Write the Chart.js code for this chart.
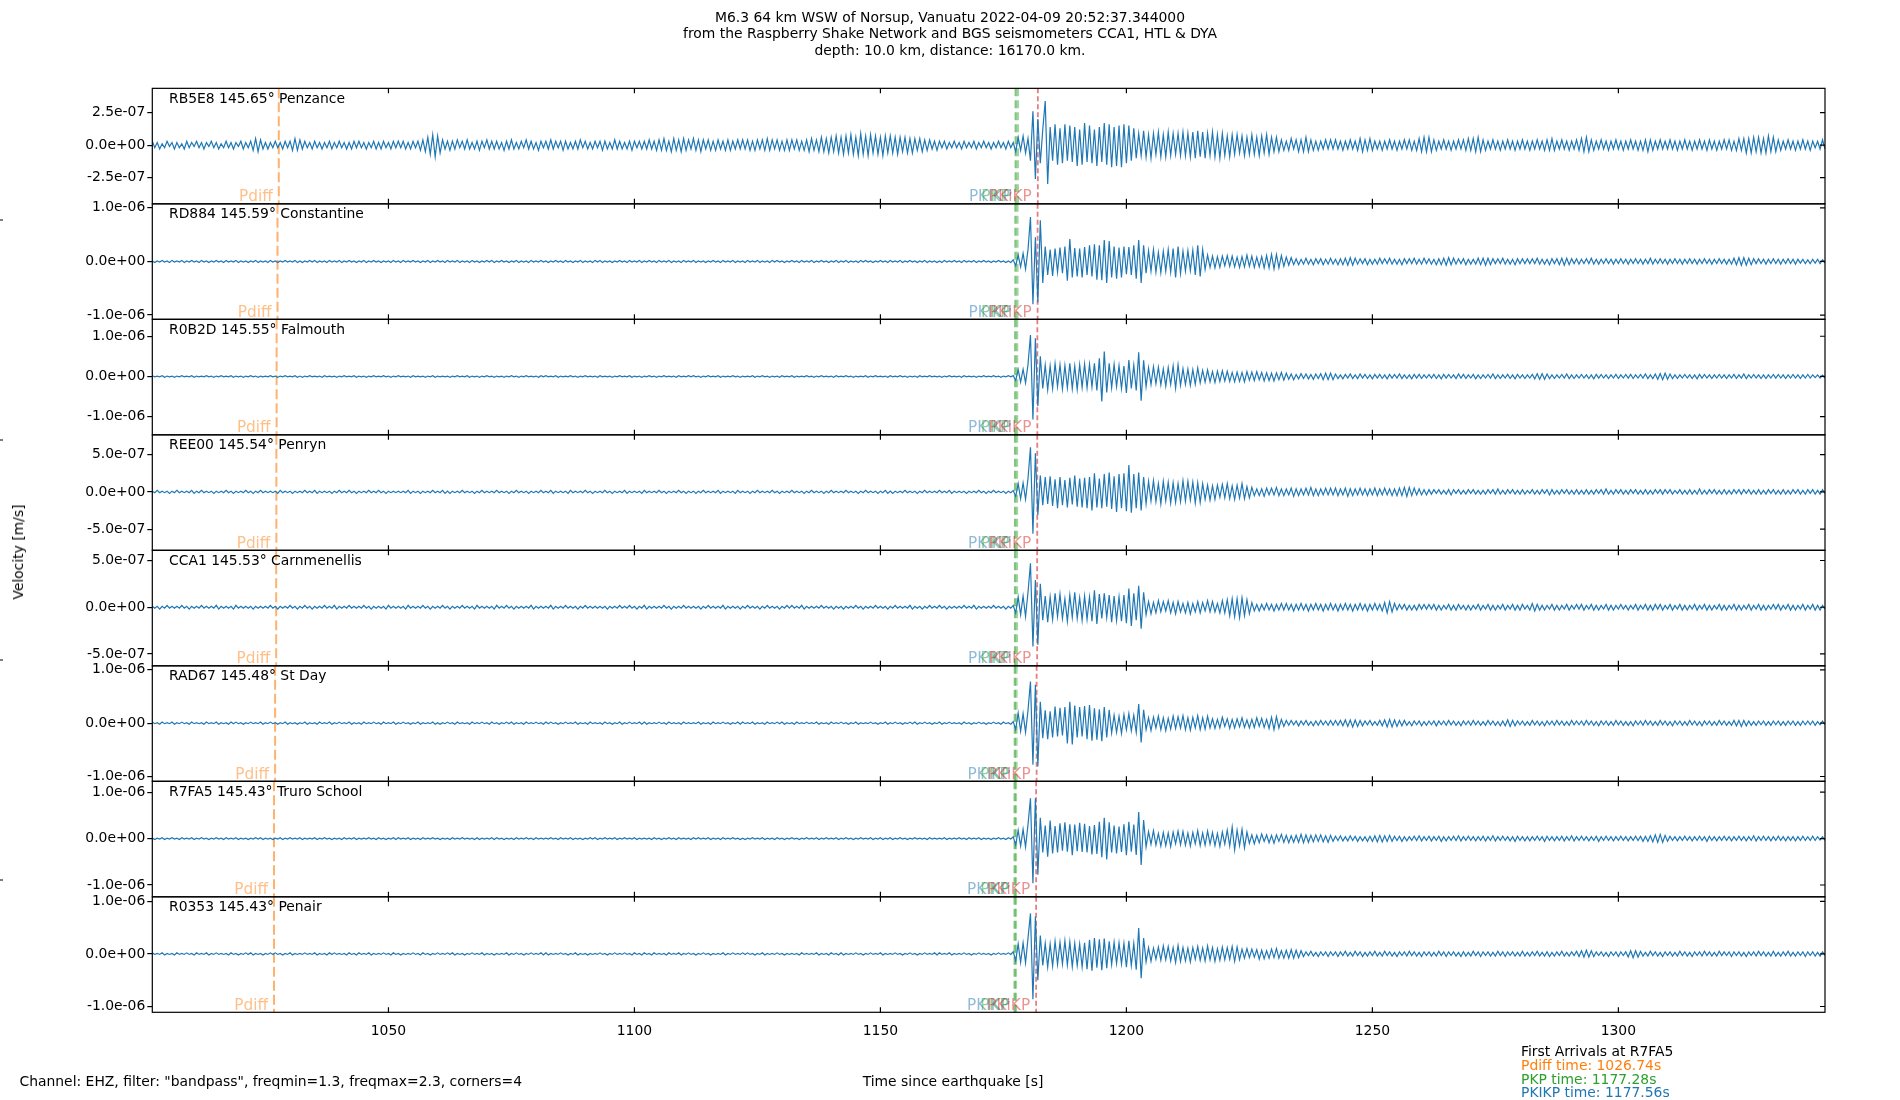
<!DOCTYPE html>
<html>
<head>
<meta charset="utf-8">
<title>M6.3 64 km WSW of Norsup, Vanuatu - seismograms</title>
<script src="https://cdn.jsdelivr.net/npm/chart.js@4.4.0/dist/chart.umd.min.js"></script>
<style>
  body { margin: 0; background: #fff; }
  #wrap { position: relative; width: 1900px; height: 1100px; font-family: "DejaVu Sans", sans-serif; font-size: 13.9px; color: #000; }
  #wrap canvas { position: absolute; left: 0; top: 0; }
  .txt { position: absolute; white-space: nowrap; line-height: 16px; }
</style>
</head>
<body>
<div id="wrap">
  <canvas id="seismo" width="1900" height="1100"></canvas>
  <div class="txt" style="left:18px;top:552px;transform:translate(-50%,-50%) rotate(-90deg);">Velocity [m/s]</div>
  <div class="txt" style="left:19.5px;top:1073px;">Channel: EHZ, filter: "bandpass", freqmin=1.3, freqmax=2.3, corners=4</div>
  <div class="txt" style="left:953px;top:1073px;transform:translateX(-50%);">Time since earthquake [s]</div>
  <div id="arrivals"></div>
</div>
<script>
const titleLines = [
  "M6.3 64 km WSW of Norsup, Vanuatu 2022-04-09 20:52:37.344000",
  "from the Raspberry Shake Network and BGS seismometers CCA1, HTL & DYA",
  "depth: 10.0 km, distance: 16170.0 km.",
];

const stations = ["RB5E8", "RD884", "R0B2D", "REE00", "CCA1", "RAD67", "R7FA5", "R0353"];
const places = ["Penzance", "Constantine", "Falmouth", "Penryn", "Carnmenellis", "St Day", "Truro School", "Penair"];
const distances = [145.65, 145.59, 145.55, 145.54, 145.53, 145.48, 145.43, 145.43];

// arrival times [s] per station
const pdiffTimes = [1027.71, 1027.45, 1027.27, 1027.22, 1027.18, 1026.96, 1026.74, 1026.74];
const pkpTimes = [1177.5, 1177.45, 1177.4, 1177.38, 1177.36, 1177.32, 1177.28, 1177.28];
const pkikpTimes = [1177.95, 1177.86, 1177.79, 1177.77, 1177.75, 1177.66, 1177.56, 1177.56];
const pkikpInnerTimes = [1182.0, 1181.95, 1181.9, 1181.88, 1181.86, 1181.75, 1181.65, 1181.65];

// axis limits and tick steps [m/s]
const yMin = [-4.52e-7, -1.08e-6, -1.45e-6, -7.84e-7, -6.27e-7, -1.09e-6, -1.254e-6, -1.11e-6];
const yMax = [4.37e-7, 1.075e-6, 1.42e-6, 7.66e-7, 6.09e-7, 1.075e-6, 1.234e-6, 1.086e-6];
const yTickStep = [2.5e-7, 1e-6, 1e-6, 5e-7, 5e-7, 1e-6, 1e-6, 1e-6];
const xTicks = [1050, 1100, 1150, 1200, 1250, 1300];
const xMin = 1002;
const xMax = 1342;

// traces: samples every 0.5 s from 1002 s, in units of 1e-8 m/s
const sampleStart = 1002;
const sampleStep = 0.5;
const UNIT = 1e-8;

const rb5e8 = [
  3,-2,2,-3,1,-2,3,-1,2,-3,2,-2,1,-3,3,-2,2,-1,3,-2,
  2,-3,2,-1,3,-2,2,-3,1,-2,3,-2,2,-3,2,-1,3,-3,2,-2,
  3,-4,5,-5,4,-3,2,-3,2,-2,3,-2,2,-3,3,-2,3,-4,5,-4,
  4,-3,3,-2,2,-3,3,-2,2,-3,2,-2,3,-3,2,-2,3,-2,2,-3,
  2,-3,3,-2,3,-2,2,-3,2,-2,3,-3,2,-3,3,-2,2,-3,3,-2,
  3,-2,3,-3,2,-3,3,-2,3,-4,4,-5,6,-7,8,-9,7,-6,4,-3,
  3,-4,3,-3,4,-2,3,-3,4,-3,2,-3,3,-4,3,-2,4,-3,3,-3,
  3,-3,2,-4,3,-3,4,-3,2,-3,3,-2,4,-3,3,-3,2,-4,3,-2,
  3,-3,4,-3,3,-2,3,-4,3,-3,2,-3,3,-3,4,-2,3,-3,2,-3,
  3,-2,3,-4,3,-3,2,-3,4,-3,3,-3,2,-3,3,-4,3,-2,3,-3,
  3,-3,4,-3,3,-4,4,-4,5,-4,3,-5,5,-4,4,-5,5,-4,4,-3,
  5,-4,4,-5,4,-3,4,-4,3,-4,4,-3,3,-4,4,-4,3,-3,4,-3,
  4,-3,4,-4,3,-4,4,-3,4,-4,5,-4,4,-3,4,-4,3,-4,4,-4,
  4,-3,4,-4,3,-4,4,-5,5,-4,4,-5,6,-5,5,-6,6,-5,7,-6,
  6,-7,7,-6,8,-7,6,-8,9,-7,7,-8,8,-6,7,-7,6,-8,7,-6,
  7,-6,6,-7,6,-5,6,-6,5,-6,5,-4,5,-5,4,-4,4,-3,3,-4,
  3,-2,3,-3,2,-2,3,-2,2,-3,3,-2,2,-2,3,-3,2,-2,3,-2,
  2,-3,2,-2,3,-2,2,-3,3,-2,2,-5,6,-4,7,-6,5,-12,26,-26,
  20,-14,12,34,-30,14,-12,16,-15,13,-14,16,-12,15,-13,14,-16,12,-15,17,
  -13,15,-14,12,-16,14,-13,17,-15,16,-17,14,-16,15,-17,16,-14,15,-12,13,
  -10,9,-8,11,-9,8,-10,9,-7,10,-9,8,-9,10,-8,9,-7,9,-8,10,
  -8,9,-9,10,-10,11,-9,10,-10,9,-8,10,-9,8,-10,9,-8,7,-9,8,
  -7,8,-6,7,-8,6,-7,8,-7,6,-8,7,-6,8,-7,6,-5,6,-5,4,
  -4,3,-4,5,-3,4,-5,4,-5,6,-5,4,-4,3,-4,3,-3,4,-3,4,
  -3,4,-3,3,-4,3,-3,4,-3,3,-4,5,-5,4,-4,5,-4,3,-3,3,
  -4,3,-3,4,-3,3,-4,3,-3,4,-3,4,-4,3,-4,5,-5,6,-5,6,
  -5,4,-4,3,-3,4,-3,3,-4,3,-3,4,-3,4,-4,5,-4,5,-5,6,
  -5,4,-4,3,-3,4,-3,3,-4,3,-3,4,-3,3,-4,3,-3,4,-3,3,
  -4,3,-3,4,-3,3,-4,4,-4,5,-4,3,-3,4,-3,3,-4,3,-3,4,
  -4,5,-5,6,-5,4,-4,3,-3,4,-3,3,-4,3,-3,4,-3,3,-4,3,
  -3,4,-3,3,-4,3,-4,4,-5,4,-4,3,-3,4,-3,3,-3,4,-3,3,
  -4,3,-3,4,-3,3,-4,3,-3,4,-3,3,-4,4,-3,3,-4,3,-3,4,
  -3,4,-4,3,-4,5,-4,5,-6,5,-6,6,-5,6,-6,5,-6,7,-5,6,
  -5,4,-4,3,-3,4,-3,3,-4,3,-3,4,-3,3,-4,3,-2,3,-3,4,
  -3,
];

const rd884 = [
  1,-2,1,-1,2,-1,1,-2,2,-1,1,-1,2,-2,1,-1,2,-1,1,-2,
  2,-1,1,-2,1,-1,2,-1,1,-2,2,-1,1,-1,2,-2,1,-1,1,-2,
  1,-1,2,-2,1,-1,1,-2,2,-1,1,-2,1,-1,2,-1,1,-1,2,-2,
  1,-2,1,-1,2,-1,2,-2,1,-1,1,-2,2,-1,1,-1,2,-2,1,-1,
  2,-1,1,-2,1,-1,2,-2,1,-1,2,-1,1,-2,1,-1,1,-2,2,-1,
  1,-2,2,-1,1,-1,2,-1,1,-2,1,-1,2,-2,1,-1,2,-1,1,-2,
  2,-1,1,-1,2,-2,1,-1,1,-2,2,-1,1,-2,1,-1,2,-1,2,-2,
  1,-1,2,-1,1,-2,1,-1,2,-2,1,-1,1,-2,2,-1,1,-1,2,-1,
  1,-2,1,-1,2,-1,1,-2,2,-1,1,-2,1,-1,2,-2,1,-1,1,-2,
  2,-1,2,-2,1,-1,1,-2,1,-1,2,-1,1,-2,2,-1,1,-1,2,-2,
  1,-1,2,-1,1,-2,2,-1,1,-1,2,-2,1,-1,1,-2,2,-1,1,-1,
  2,-2,1,-1,1,-2,1,-1,2,-1,1,-2,2,-1,1,-1,2,-2,1,-1,
  1,-2,2,-1,1,-1,2,-2,1,-1,1,-2,2,-1,2,-1,1,-2,1,-1,
  2,-1,1,-2,2,-1,1,-1,2,-2,1,-1,2,-1,1,-2,1,-1,2,-2,
  1,-1,2,-2,1,-1,1,-2,2,-1,2,-1,1,-2,1,-1,2,-1,1,-2,
  2,-1,1,-1,2,-2,1,-1,2,-1,1,-2,1,-1,2,-2,1,-1,1,-2,
  1,-2,2,-1,1,-1,2,-1,1,-2,2,-1,1,-1,2,-2,1,-1,2,-1,
  1,-2,1,-1,2,-1,1,-2,1,-2,3,-8,12,-10,15,-14,22,83,-80,45,
  -76,77,-40,28,-25,22,-27,24,-20,26,-22,28,-36,42,-30,25,-28,24,-30,27,
  -25,30,-28,32,-34,30,-35,40,-40,38,-30,28,-32,26,-30,28,-24,27,-25,30,
  -32,40,-40,30,-22,20,-18,22,-20,17,-21,19,-18,22,-20,24,-30,28,-22,19,
  -18,20,-17,21,-25,30,-28,22,-15,12,-11,10,-12,9,-11,10,-8,11,-9,10,
  -10,8,-11,9,-10,12,-9,10,-11,8,-10,9,-12,11,-12,13,-14,13,-12,11,
  -9,8,-7,7,-6,5,-6,4,-5,6,-5,4,-6,5,-4,5,-6,4,-5,6,
  -5,4,-6,5,-6,6,-7,7,-7,6,-5,5,-4,5,-6,4,-5,4,-5,6,
  -4,5,-4,6,-5,4,-5,4,-6,5,-4,5,-4,6,-5,4,-5,6,-4,5,
  -5,4,-6,5,-6,6,-7,7,-6,6,-5,5,-4,5,-6,4,-5,4,-5,6,
  -6,6,-7,6,-6,5,-4,5,-4,6,-5,4,-5,4,-6,5,-4,5,-4,5,
  -4,5,-4,6,-5,4,-5,4,-6,5,-4,5,-6,6,-7,6,-6,5,-4,5,
  -5,4,-4,5,-4,6,-5,4,-5,4,-4,5,-4,4,-5,4,-4,5,-4,4,
  -5,4,-4,5,-4,4,-5,4,-4,6,-5,4,-4,5,-4,4,-5,4,-4,5,
  -4,4,-5,4,-4,5,-4,4,-5,4,-4,5,-4,4,-5,4,-4,5,-4,4,
  -5,4,-5,6,-6,7,-7,7,-7,6,-6,5,-4,5,-4,4,-5,4,-4,5,
  -4,4,-5,4,-4,5,-4,4,-5,4,-3,4,-4,3,-4,4,-3,4,-4,3,
  -3,
];

const r0b2d = [
  2,-1,1,-1,2,-2,1,-1,1,-2,1,-1,2,-1,1,-1,2,-2,1,-1,
  1,-1,2,-1,1,-2,1,-1,2,-1,1,-1,2,-2,1,-1,1,-2,1,-1,
  2,-1,1,-2,1,-1,1,-1,2,-1,1,-2,1,-1,2,-1,1,-1,2,-2,
  1,-2,1,-1,2,-1,1,-1,1,-2,2,-1,1,-1,1,-2,1,-1,2,-1,
  1,-1,2,-2,1,-1,1,-2,1,-1,2,-1,1,-1,2,-1,1,-2,1,-1,
  2,-1,1,-1,1,-2,2,-1,1,-1,1,-2,1,-1,2,-2,1,-1,1,-1,
  1,-2,1,-1,2,-1,1,-1,2,-2,1,-1,1,-2,1,-1,2,-1,1,-2,
  1,-1,1,-2,1,-1,2,-1,1,-2,1,-1,2,-1,1,-1,1,-2,2,-1,
  2,-1,1,-1,2,-2,1,-1,1,-1,2,-1,1,-2,1,-1,2,-1,1,-1,
  1,-2,2,-1,1,-1,1,-2,1,-1,2,-1,1,-1,2,-2,1,-1,1,-2,
  1,-1,2,-1,1,-2,1,-1,2,-1,1,-1,1,-2,2,-1,1,-1,2,-1,
  2,-1,1,-2,1,-1,2,-1,1,-1,2,-2,1,-1,1,-1,2,-1,1,-2,
  1,-1,1,-1,2,-2,1,-1,2,-1,1,-2,1,-1,1,-2,2,-1,1,-1,
  2,-2,1,-1,1,-1,2,-1,1,-2,1,-1,2,-1,1,-1,1,-2,2,-1,
  1,-1,2,-1,1,-2,1,-1,1,-1,2,-2,1,-1,2,-1,1,-1,1,-2,
  2,-1,1,-1,2,-1,1,-2,1,-1,1,-2,2,-1,1,-1,2,-1,1,-1,
  1,-2,1,-1,2,-1,1,-1,1,-2,2,-1,1,-1,1,-2,1,-1,2,-1,
  1,-1,2,-1,1,-2,1,-1,2,-1,2,-10,17,-14,18,-16,30,103,-107,95,
  -74,50,-30,28,-33,26,-30,32,-25,29,-31,27,-28,33,-30,26,-32,29,-27,31,
  -28,30,-26,33,-35,45,-62,62,-40,33,-28,30,-25,27,-30,26,-41,41,-30,28,
  -35,60,-60,40,-25,22,-20,24,-18,23,-21,19,-24,22,-20,26,-29,29,-22,19,
  -20,18,-22,17,-19,21,-16,15,-14,16,-13,12,-15,13,-12,14,-11,13,-12,10,
  -13,11,-12,10,-13,12,-9,11,-10,12,-8,10,-11,9,-10,8,-11,9,-8,10,
  -9,8,-7,6,-8,5,-6,7,-5,6,-6,5,-7,6,-5,7,-8,8,-8,8,
  -8,6,-5,4,-6,5,-4,6,-5,4,-5,6,-4,5,-5,4,-6,5,-4,5,
  -5,4,-6,5,-4,5,-4,6,-5,4,-5,4,-6,5,-4,5,-5,4,-4,5,
  -4,5,-5,4,-6,5,-4,5,-4,4,-5,6,-4,5,-5,4,-4,5,-6,4,
  -5,4,-4,5,-4,6,-5,4,-5,4,-4,5,-5,4,-6,5,-4,4,-5,4,
  -4,5,-6,7,-7,7,-7,6,-5,4,-5,4,-4,5,-4,6,-5,4,-5,4,
  -4,5,-4,4,-5,4,-6,5,-4,5,-4,4,-5,4,-4,5,-5,4,-4,5,
  -4,5,-5,4,-4,5,-4,6,-5,4,-5,6,-7,7,-8,8,-7,6,-5,4,
  -5,4,-4,5,-4,4,-5,4,-6,5,-4,5,-4,4,-5,4,-4,5,-4,4,
  -5,4,-4,5,-5,4,-4,6,-5,4,-4,5,-4,4,-5,4,-5,4,-4,5,
  -4,5,-4,4,-5,4,-4,5,-4,4,-5,4,-4,5,-4,4,-3,4,-4,3,
  -4,
];

const ree00 = [
  1,-1,2,-1,1,-1,1,-2,1,-1,2,-1,1,-1,1,-1,2,-2,1,-1,
  2,-1,1,-1,1,-2,1,-1,1,-1,2,-1,1,-2,1,-1,1,-1,2,-1,
  1,-2,1,-1,2,-1,1,-1,1,-1,1,-2,2,-1,1,-1,1,-2,1,-1,
  1,-1,2,-1,1,-1,2,-2,1,-1,1,-1,1,-2,1,-1,2,-1,1,-1,
  2,-1,1,-2,1,-1,1,-1,2,-1,1,-1,2,-1,1,-2,1,-1,1,-1,
  1,-1,1,-1,2,-2,1,-1,1,-2,1,-1,1,-1,2,-1,1,-1,2,-2,
  1,-2,1,-1,1,-1,2,-1,1,-1,1,-2,1,-1,2,-1,1,-1,1,-1,
  2,-1,1,-1,1,-2,1,-1,2,-1,1,-1,1,-2,1,-1,1,-1,2,-1,
  1,-1,2,-2,1,-1,1,-1,1,-2,2,-1,1,-1,1,-1,2,-1,1,-2,
  1,-1,1,-1,2,-1,1,-2,1,-1,1,-1,2,-2,1,-1,1,-1,1,-2,
  2,-1,1,-1,1,-1,2,-1,1,-2,1,-1,1,-1,2,-1,1,-2,1,-1,
  1,-2,1,-1,2,-1,1,-1,1,-1,2,-2,1,-1,1,-1,1,-2,2,-1,
  1,-1,1,-2,1,-1,2,-1,1,-1,1,-1,2,-1,1,-2,1,-1,1,-1,
  2,-1,1,-1,1,-2,1,-1,2,-1,1,-1,1,-2,1,-1,2,-1,1,-1,
  1,-1,2,-1,1,-1,1,-2,1,-1,2,-1,1,-1,1,-2,1,-1,2,-2,
  1,-2,1,-1,1,-1,2,-1,1,-1,1,-2,1,-1,2,-1,1,-1,1,-1,
  2,-1,1,-1,2,-2,1,-1,1,-1,1,-2,1,-1,1,-1,2,-1,1,-2,
  1,-1,2,-1,1,-1,1,-2,1,-1,2,-6,11,-9,12,-10,18,60,-56,52,
  -31,22,-18,20,-16,21,-19,17,-22,20,-18,16,-21,19,-17,22,-20,18,-21,19,
  -22,20,-25,25,-21,18,-22,24,-20,26,-23,21,-27,24,-22,25,-26,36,-28,24,
  -22,26,-25,20,-16,14,-12,15,-13,11,-16,14,-12,13,-15,12,-14,11,-13,15,
  -12,14,-11,13,-15,12,-14,11,-10,9,-11,8,-10,9,-7,10,-8,11,-9,8,
  -10,9,-8,11,-9,7,-8,6,-5,4,-5,4,-6,5,-4,5,-4,6,-5,4,
  -5,4,-4,5,-6,4,-5,4,-4,5,-4,6,-5,4,-5,4,-4,5,-4,5,
  -4,5,-5,4,-4,5,-6,4,-5,4,-4,5,-4,4,-5,4,-4,5,-5,4,
  -4,5,-4,4,-5,4,-5,5,-5,6,-6,6,-5,5,-4,4,-4,3,-4,3,
  -3,3,-2,3,-3,2,-3,3,-4,3,-2,3,-3,2,-3,3,-2,3,-3,2,
  -3,2,-3,3,-2,3,-3,4,-3,2,-3,3,-2,3,-3,2,-3,3,-3,2,
  -2,3,-3,2,-3,3,-2,3,-4,3,-3,2,-3,3,-2,3,-3,2,-3,3,
  -3,2,-3,3,-3,2,-3,3,-2,3,-3,4,-3,2,-3,3,-2,3,-3,2,
  -3,3,-2,3,-3,2,-3,3,-3,2,-3,3,-2,3,-3,3,-2,3,-3,2,
  -2,3,-3,2,-3,3,-3,2,-3,4,-3,2,-3,3,-2,3,-3,2,-3,3,
  -3,2,-3,3,-2,3,-3,3,-2,3,-3,2,-3,3,-3,2,-3,3,-2,3,
  -3,2,-3,3,-3,2,-3,3,-2,3,-3,2,-3,3,-2,3,-3,2,-3,3,
  -2,
];

const cca1 = [
  1,-1,1,-2,1,-1,2,-1,1,-1,1,-1,2,-1,1,-2,1,-1,1,-1,
  2,-1,1,-1,1,-1,2,-2,1,-1,1,-1,1,-2,2,-1,1,-1,1,-1,
  1,-2,1,-1,1,-1,1,-1,2,-1,1,-2,1,-1,1,-1,2,-1,1,-2,
  1,-1,2,-1,1,-2,1,-1,1,-1,2,-1,1,-1,2,-2,1,-1,1,-1,
  2,-1,1,-1,1,-1,2,-1,1,-2,1,-1,1,-1,1,-2,2,-1,1,-1,
  1,-1,1,-2,2,-1,1,-1,1,-1,2,-1,1,-2,1,-1,1,-1,2,-1,
  1,-2,1,-1,1,-1,2,-1,1,-1,1,-2,2,-1,1,-1,1,-1,1,-2,
  2,-1,1,-1,2,-1,1,-2,1,-1,1,-1,1,-1,2,-2,1,-1,1,-1,
  1,-1,2,-2,1,-1,1,-1,2,-1,1,-1,1,-2,1,-1,2,-1,1,-1,
  1,-1,1,-1,1,-2,1,-1,1,-1,2,-1,1,-1,2,-1,1,-2,1,-1,
  2,-2,1,-1,1,-1,1,-1,2,-1,1,-2,1,-1,1,-1,2,-1,1,-1,
  1,-1,1,-2,1,-1,2,-1,1,-1,1,-1,2,-2,1,-1,1,-1,1,-2,
  1,-1,2,-1,1,-1,1,-2,1,-1,2,-1,1,-1,1,-2,1,-1,2,-1,
  2,-1,1,-1,2,-2,1,-1,1,-1,1,-1,2,-1,1,-1,1,-2,1,-1,
  1,-2,1,-1,1,-1,2,-1,1,-2,1,-1,1,-1,2,-1,1,-1,1,-2,
  1,-1,2,-1,1,-1,1,-1,2,-2,1,-1,1,-2,1,-1,2,-1,1,-1,
  2,-1,1,-2,1,-1,1,-1,1,-1,2,-1,1,-1,2,-2,1,-1,1,-1,
  1,-1,2,-1,1,-1,1,-2,1,-1,2,-6,11,-8,12,-10,16,47,-42,29,
  -40,25,-14,12,-16,11,-13,15,-10,14,-12,9,-15,13,-11,16,-12,10,-14,12,
  -13,11,-15,18,-18,14,-12,15,-11,13,-16,12,-14,11,-15,13,-17,20,-20,15,
  -14,23,-23,16,-8,6,-7,5,-6,7,-5,6,-4,7,-6,5,-7,6,-5,4,
  -6,5,-7,4,-5,6,-6,5,-4,7,-5,6,-5,4,-6,7,-6,8,-9,9,
  -10,9,-11,10,-9,8,-7,5,-4,3,-4,3,-3,4,-3,3,-4,3,-3,4,
  -3,4,-3,3,-4,3,-3,4,-3,3,-4,3,-3,4,-3,3,-4,3,-3,4,
  -3,3,-4,3,-3,4,-3,3,-4,3,-3,4,-3,3,-4,3,-3,4,-3,3,
  -4,5,-6,6,-5,4,-3,3,-2,3,-3,2,-3,2,-3,3,-2,3,-2,3,
  -2,3,-3,2,-3,2,-2,3,-3,2,-3,3,-2,2,-3,2,-3,2,-2,3,
  -3,2,-2,3,-3,2,-3,2,-2,3,-3,2,-2,3,-3,2,-3,3,-2,2,
  -3,4,-4,3,-3,2,-3,2,-2,3,-3,2,-3,2,-2,3,-3,2,-2,3,
  -2,3,-3,2,-2,3,-3,2,-3,2,-2,3,-3,2,-3,2,-2,3,-2,2,
  -3,2,-2,3,-3,2,-2,3,-3,2,-3,3,-2,3,-3,2,-2,3,-3,2,
  -2,3,-3,2,-3,2,-2,3,-3,2,-2,3,-3,2,-3,2,-2,3,-3,2,
  -3,2,-2,3,-3,2,-3,2,-2,3,-3,2,-2,3,-3,2,-3,2,-2,3,
  -2,3,-3,2,-2,3,-3,2,-3,2,-2,3,-3,2,-2,3,-3,2,-3,2,
  -2,
];

const rad67 = [
  2,-1,1,-2,2,-1,1,-1,2,-2,1,-1,2,-1,1,-2,2,-1,1,-1,
  1,-2,2,-1,1,-1,2,-2,1,-1,1,-2,2,-1,2,-1,1,-2,1,-1,
  2,-1,1,-1,2,-2,1,-1,2,-1,1,-2,1,-1,2,-2,1,-1,1,-2,
  1,-1,2,-2,1,-1,1,-2,2,-1,1,-1,2,-2,1,-1,2,-1,1,-1,
  2,-2,1,-1,1,-2,2,-1,1,-1,2,-1,1,-2,2,-1,1,-1,2,-2,
  1,-1,2,-1,1,-2,1,-1,2,-2,1,-1,1,-1,2,-2,1,-2,1,-1,
  2,-1,1,-2,2,-1,1,-1,1,-2,2,-1,1,-1,2,-1,1,-2,2,-1,
  1,-2,1,-1,2,-1,2,-2,1,-1,1,-2,2,-1,1,-1,2,-1,1,-2,
  2,-1,2,-1,1,-2,1,-1,2,-1,1,-1,2,-2,1,-1,1,-2,2,-1,
  1,-1,1,-2,2,-1,1,-2,1,-1,2,-2,1,-1,2,-1,1,-1,2,-2,
  2,-2,1,-1,1,-1,2,-1,1,-2,2,-1,1,-1,1,-2,2,-1,1,-1,
  1,-1,2,-2,1,-1,1,-2,2,-1,1,-1,2,-1,1,-2,1,-1,2,-2,
  2,-1,1,-1,2,-2,1,-1,1,-2,2,-1,1,-1,2,-1,2,-2,1,-1,
  1,-2,2,-1,1,-1,2,-1,1,-1,2,-2,1,-1,1,-2,2,-1,1,-1,
  2,-1,1,-2,1,-1,2,-2,1,-1,1,-1,2,-1,1,-2,1,-1,2,-2,
  1,-1,2,-1,1,-2,1,-1,2,-1,2,-2,1,-1,2,-1,1,-2,1,-1,
  2,-2,1,-1,2,-1,1,-1,1,-2,2,-1,1,-2,1,-1,2,-1,1,-2,
  1,-1,2,-1,1,-2,2,-1,1,-2,3,-12,19,-15,18,-17,24,78,-78,72,
  -81,40,-28,24,-30,22,-27,31,-25,29,-23,30,-38,40,-40,33,-27,30,-25,32,
  -30,34,-33,28,-31,26,-34,30,-27,25,-18,15,-17,13,-19,16,-12,18,-14,15,
  -17,36,-36,25,-12,10,-14,11,-9,13,-12,10,-14,9,-11,13,-10,12,-9,14,
  -12,10,-13,11,-9,14,-12,10,-11,13,-9,8,-10,7,-9,11,-6,8,-10,7,
  -9,8,-7,10,-8,6,-9,7,-8,10,-6,9,-8,7,-10,11,-12,12,-9,7,
  -6,5,-4,5,-3,4,-5,4,-3,5,-4,3,-5,4,-4,5,-3,4,-4,5,
  -4,5,-4,5,-5,6,-6,6,-7,6,-6,5,-5,4,-3,5,-4,3,-4,5,
  -5,6,-7,7,-7,6,-6,5,-5,5,-4,3,-5,4,-3,4,-5,3,-4,4,
  -3,4,-5,4,-3,4,-4,5,-3,4,-4,3,-5,4,-3,4,-4,5,-3,4,
  -4,3,-4,5,-3,4,-4,3,-5,4,-5,6,-6,5,-5,4,-3,4,-4,3,
  -4,5,-3,4,-4,3,-5,4,-3,4,-4,5,-3,4,-4,3,-4,5,-3,4,
  -3,4,-4,5,-3,4,-4,3,-5,4,-3,4,-4,3,-4,5,-3,4,-4,3,
  -4,3,-5,4,-3,4,-4,5,-3,4,-4,3,-4,5,-3,4,-4,3,-5,4,
  -3,4,-4,3,-4,5,-3,4,-4,3,-5,4,-3,4,-4,3,-4,5,-3,4,
  -4,3,-4,5,-5,5,-6,5,-5,4,-4,3,-4,4,-3,4,-4,3,-4,4,
  -3,4,-4,3,-4,4,-3,4,-4,3,-4,4,-3,4,-3,4,-4,3,-3,4,
  -3,
];

const r7fa5 = [
  1,-2,1,-1,2,-2,1,-1,2,-1,1,-2,2,-1,1,-1,2,-2,1,-1,
  2,-1,1,-2,1,-1,2,-1,1,-2,2,-1,1,-1,2,-2,1,-1,1,-2,
  1,-1,2,-1,2,-2,1,-1,1,-2,1,-1,2,-2,1,-1,2,-1,1,-1,
  2,-2,1,-1,1,-1,2,-2,1,-1,2,-1,1,-2,1,-1,1,-2,2,-1,
  1,-1,2,-2,1,-1,1,-1,2,-1,1,-2,2,-1,1,-2,1,-1,2,-2,
  2,-1,1,-1,2,-2,1,-1,1,-2,2,-1,1,-1,2,-1,1,-2,1,-1,
  1,-2,2,-1,1,-1,2,-1,1,-1,1,-2,2,-2,1,-1,1,-1,2,-2,
  2,-1,1,-2,1,-1,1,-2,2,-1,1,-1,2,-1,1,-2,2,-1,1,-1,
  1,-1,2,-1,1,-2,2,-1,1,-1,2,-2,1,-1,1,-2,1,-1,2,-1,
  2,-2,1,-1,2,-1,1,-1,2,-2,1,-1,2,-1,1,-1,2,-2,1,-1,
  1,-1,1,-2,2,-1,1,-2,1,-1,2,-1,1,-2,2,-1,1,-1,1,-2,
  2,-1,2,-1,1,-1,2,-2,1,-1,1,-2,2,-1,1,-1,2,-1,1,-2,
  1,-2,1,-1,2,-1,1,-1,2,-2,1,-1,1,-2,2,-1,1,-2,1,-1,
  2,-1,1,-2,1,-1,2,-1,1,-1,2,-2,1,-1,2,-1,1,-1,2,-2,
  1,-1,2,-1,1,-2,1,-1,2,-1,1,-1,2,-2,1,-1,2,-2,1,-1,
  2,-2,1,-1,2,-1,1,-2,1,-1,2,-1,1,-1,1,-2,2,-1,1,-1,
  1,-1,2,-2,1,-1,1,-1,2,-1,1,-2,2,-1,1,-1,2,-2,1,-1,
  1,-2,1,-1,2,-1,1,-2,2,-1,4,-14,18,-16,20,-18,30,87,-96,87,
  -78,45,-30,28,-39,39,-32,27,-30,33,-26,35,-28,31,-36,30,-27,34,-29,32,
  -30,27,-34,29,-33,36,-40,45,-45,35,-30,28,-32,26,-29,31,-36,36,-28,30,
  -35,57,-57,40,-18,15,-12,17,-14,11,-16,13,-15,12,-17,14,-11,16,-13,15,
  -14,12,-16,13,-11,17,-15,12,-14,16,-12,13,-15,11,-17,14,-12,18,-16,25,
  -24,18,-15,20,-20,14,-10,8,-11,7,-9,10,-6,8,-9,7,-10,8,-6,9,
  -8,7,-9,6,-8,7,-8,9,-9,8,-8,7,-7,8,-6,8,-7,6,-8,7,
  -6,5,-4,6,-5,4,-5,6,-4,5,-6,4,-5,4,-6,5,-6,6,-7,7,
  -7,6,-6,7,-6,5,-4,5,-6,4,-5,4,-4,5,-4,6,-5,4,-4,5,
  -5,4,-4,5,-6,4,-5,4,-4,5,-4,6,-5,4,-4,5,-4,4,-5,4,
  -4,5,-5,4,-4,6,-5,4,-4,5,-4,4,-5,4,-6,5,-4,4,-5,4,
  -5,4,-4,5,-4,4,-6,5,-4,4,-5,4,-4,5,-5,4,-4,6,-5,4,
  -4,5,-4,4,-5,4,-4,5,-6,4,-4,5,-4,4,-5,4,-4,5,-4,4,
  -5,4,-4,5,-4,5,-6,5,-6,6,-7,8,-8,9,-8,7,-6,5,-4,4,
  -5,4,-4,5,-4,4,-5,4,-4,5,-4,4,-6,5,-4,4,-5,4,-4,5,
  -4,4,-5,4,-4,5,-4,4,-5,4,-4,6,-5,4,-4,5,-4,4,-5,4,
  -4,5,-4,4,-5,4,-4,4,-5,4,-4,5,-4,4,-4,5,-4,4,-3,4,
  -4,
];

const r0353 = [
  2,-1,1,-1,2,-2,1,-1,1,-2,2,-1,1,-1,2,-1,1,-2,2,-1,
  1,-1,2,-2,1,-1,2,-1,1,-1,1,-2,2,-1,1,-2,1,-1,2,-1,
  2,-2,1,-1,1,-2,1,-1,2,-1,2,-1,1,-2,1,-1,2,-2,1,-1,
  1,-1,2,-1,1,-1,2,-2,1,-1,1,-2,2,-1,2,-1,1,-1,1,-2,
  2,-1,1,-2,2,-1,1,-1,2,-2,1,-1,1,-1,2,-1,1,-2,2,-1,
  1,-2,1,-1,1,-1,2,-1,1,-2,2,-1,1,-2,1,-1,2,-1,1,-1,
  2,-1,2,-2,1,-1,1,-2,1,-1,2,-1,1,-1,2,-2,1,-1,1,-2,
  1,-1,1,-1,2,-2,1,-1,2,-1,1,-2,1,-1,2,-1,1,-1,2,-2,
  2,-2,1,-1,1,-1,2,-1,1,-2,1,-1,2,-2,1,-1,1,-2,1,-1,
  1,-1,2,-1,1,-2,1,-1,2,-1,1,-1,2,-1,1,-2,2,-1,1,-2,
  2,-1,1,-2,2,-1,1,-1,1,-2,2,-1,1,-1,2,-2,1,-1,2,-1,
  1,-2,1,-1,2,-1,1,-2,1,-1,1,-1,2,-2,1,-1,2,-1,1,-1,
  2,-1,2,-1,1,-2,1,-1,2,-2,1,-1,1,-1,2,-1,1,-2,1,-1,
  1,-1,1,-2,2,-1,1,-1,1,-1,2,-2,1,-1,1,-2,2,-1,1,-2,
  2,-2,1,-1,1,-1,2,-1,1,-2,1,-1,2,-1,1,-1,2,-2,1,-1,
  1,-1,2,-1,1,-2,1,-1,2,-1,1,-2,1,-1,2,-1,1,-1,2,-2,
  2,-1,1,-1,2,-2,1,-1,1,-1,2,-1,1,-2,1,-1,2,-1,1,-1,
  1,-2,1,-1,2,-1,1,-1,2,-1,4,-13,19,-16,21,-17,30,77,-86,71,
  -50,35,-22,20,-25,19,-23,24,-20,22,-19,25,-21,23,-24,20,-22,19,-25,21,
  -29,27,-32,30,-26,28,-31,29,-27,24,-20,22,-18,21,-19,20,-25,25,-22,20,
  -30,49,-46,30,-15,12,-14,11,-10,13,-12,15,-11,14,-13,12,-16,16,-14,12,
  -13,11,-15,12,-10,14,-12,11,-13,15,-11,12,-14,10,-12,13,-11,12,-10,14,
  -14,13,-11,9,-8,10,-7,9,-6,8,-10,7,-9,6,-8,9,-7,10,-8,6,
  -8,7,-8,8,-8,7,-7,6,-5,4,-3,5,-4,3,-5,4,-3,4,-5,4,
  -3,4,-5,4,-3,5,-4,3,-4,5,-3,4,-5,3,-4,4,-3,5,-4,3,
  -4,5,-3,4,-4,3,-5,4,-3,4,-4,5,-3,4,-4,3,-5,4,-3,4,
  -4,3,-4,5,-3,4,-5,4,-3,4,-4,3,-5,4,-4,3,-4,5,-3,4,
  -5,4,-3,4,-4,3,-4,5,-3,4,-5,4,-3,4,-4,3,-4,5,-4,3,
  -4,4,-3,5,-4,3,-4,4,-5,3,-4,4,-3,5,-4,3,-4,4,-3,5,
  -5,6,-6,7,-6,6,-5,4,-3,4,-4,3,-5,4,-3,4,-5,4,-3,4,
  -6,6,-7,6,-6,5,-4,3,-4,5,-3,4,-4,3,-5,4,-3,4,-4,3,
  -4,5,-3,4,-4,3,-5,4,-3,4,-4,5,-3,4,-4,3,-4,5,-3,4,
  -3,4,-5,4,-3,4,-4,3,-5,4,-3,4,-4,5,-3,4,-4,3,-4,5,
  -4,3,-4,4,-3,5,-4,3,-4,4,-3,4,-5,4,-3,4,-4,3,-4,4,
  -3,
];

const traces = [rb5e8, rd884, r0b2d, ree00, cca1, rad67, r7fa5, r0353];

const phases = [
  { name: "Pdiff", times: pdiffTimes, line: "rgba(255,127,14,0.6)", text: "rgba(255,127,14,0.5)", width: 2, dash: [10, 4] },
  { name: "PKIKP", times: pkikpTimes, line: "rgba(44,160,44,0.45)", text: "rgba(31,119,180,0.5)", width: 2.2, dash: [8, 4] },
  { name: "PKP", times: pkpTimes, line: "rgba(44,160,44,0.6)", text: "rgba(44,160,44,0.5)", width: 2.2, dash: [8, 4] },
  { name: "PKiKP", times: pkikpInnerTimes, line: "rgba(214,39,40,0.6)", text: "rgba(214,39,40,0.5)", width: 1.8, dash: [5, 3] },
];

const firstArrivals = [
  { text: "First Arrivals at R7FA5", color: "#000" },
  { text: `Pdiff time: ${pdiffTimes[6].toFixed(2)}s`, color: "#ff7f0e" },
  { text: `PKP time: ${pkpTimes[6].toFixed(2)}s`, color: "#2ca02c" },
  { text: `PKIKP time: ${pkikpTimes[6].toFixed(2)}s`, color: "#1f77b4" },
];

const arrivalsBox = document.querySelector("#arrivals");
firstArrivals.forEach((line, i) => {
  const div = document.createElement("div");
  div.className = "txt";
  div.style.left = "1521px";
  div.style.top = 1043 + i * 13.75 + "px";
  div.style.color = line.color;
  div.textContent = line.text;
  arrivalsBox.appendChild(div);
});

function formatExp(v) {
  return v.toExponential(1).replace(/e([+-])(\d)$/, "e$10$2");
}

const FONT = "DejaVu Sans";
Chart.defaults.font.family = FONT;
Chart.defaults.color = "#000";

const datasets = [];
traces.forEach((values, i) => {
  datasets.push({
    data: values.map((v, k) => ({ x: sampleStart + k * sampleStep, y: v * UNIT })),
    yAxisID: "y" + i,
    borderColor: "#1f77b4",
    borderWidth: 1.2,
    pointRadius: 0,
    tension: 0,
  });
  phases.forEach((ph) => {
    datasets.push({
      data: [
        { x: ph.times[i], y: yMax[i] },
        { x: ph.times[i], y: yMin[i] },
      ],
      yAxisID: "y" + i,
      borderColor: ph.line,
      borderWidth: ph.width,
      borderDash: ph.dash,
      pointRadius: 0,
    });
  });
});

const scales = {
  x: {
    type: "linear",
    position: "bottom",
    min: xMin,
    max: xMax,
    afterBuildTicks: (scale) => {
      scale.ticks = xTicks.map((v) => ({ value: v }));
    },
    afterFit: (scale) => {
      scale.height = 40;
    },
    grid: { display: false },
    border: { display: false },
    ticks: {
      font: { size: 13.9 },
      padding: 3,
      maxRotation: 0,
      autoSkip: false,
      callback: (v) => String(v),
    },
  },
  // empty right-hand margin so the title centres on the whole figure
  margin: {
    type: "linear",
    axis: "y",
    position: "right",
    min: 0,
    max: 1,
    afterFit: (scale) => {
      scale.width = 75;
    },
    grid: { display: false },
    border: { display: false },
    ticks: { display: false },
  },
};

stations.forEach((st, i) => {
  scales["y" + i] = {
    type: "linear",
    axis: "y",
    position: "left",
    stack: "traces",
    stackWeight: 1,
    weight: stations.length - i,
    offset: false,
    min: yMin[i],
    max: yMax[i],
    afterBuildTicks: (scale) => {
      scale.ticks = [-yTickStep[i], 0, yTickStep[i]].map((v) => ({ value: v }));
    },
    afterFit: (scale) => {
      scale.width = 152.3;
    },
    grid: { drawOnChartArea: false, color: "#000", tickLength: 5, lineWidth: 1.2 },
    border: { display: false },
    ticks: {
      font: { size: 13.9 },
      padding: 2,
      autoSkip: false,
      callback: (v) => formatExp(v),
    },
  };
});

const panelPlugin = {
  id: "panels",
  afterDatasetsDraw(chart) {
    const ctx = chart.ctx;
    const xs = chart.scales.x;
    const { left, right } = chart.chartArea;
    ctx.save();

    stations.forEach((st, i) => {
      const ys = chart.scales["y" + i];
      const top = ys.top;
      const bottom = ys.bottom;

      ctx.strokeStyle = "#000";
      ctx.lineWidth = 1.2;
      ctx.setLineDash([]);
      ctx.strokeRect(left, top, right - left, bottom - top);

      ctx.beginPath();
      xTicks.forEach((v) => {
        const px = xs.getPixelForValue(v);
        ctx.moveTo(px, top);
        ctx.lineTo(px, top + 5);
        ctx.moveTo(px, bottom);
        ctx.lineTo(px, bottom - 5);
      });
      ys.ticks.forEach((tk) => {
        const py = ys.getPixelForValue(tk.value);
        ctx.moveTo(right, py);
        ctx.lineTo(right - 5, py);
      });
      ctx.stroke();

      ctx.fillStyle = "#000";
      ctx.font = `13.9px "${FONT}"`;
      ctx.textAlign = "left";
      ctx.textBaseline = "middle";
      ctx.fillText(`${st} ${distances[i].toFixed(2)}° ${places[i]}`, left + 16.7, top + 10.7);

      ctx.font = `15.3px "${FONT}"`;
      ctx.textAlign = "right";
      ctx.textBaseline = "alphabetic";
      phases.forEach((ph) => {
        ctx.fillStyle = ph.text;
        ctx.fillText(ph.name, xs.getPixelForValue(ph.times[i]) - 6, bottom - 2.8);
      });
    });

    // stray ticks of the figure-wide label axes at the left edge
    ctx.strokeStyle = "#000";
    ctx.lineWidth = 1;
    ctx.beginPath();
    [0.2, 0.4, 0.6, 0.8].forEach((f) => {
      const py = chart.height * (1 - f);
      ctx.moveTo(0, py);
      ctx.lineTo(3, py);
    });
    ctx.stroke();
    ctx.restore();
  },
};

new Chart(document.getElementById("seismo").getContext("2d"), {
  type: "line",
  data: { datasets },
  options: {
    responsive: false,
    animation: false,
    devicePixelRatio: 1,
    events: [],
    parsing: false,
    normalized: true,
    layout: { padding: { left: 0, right: 0, top: 0, bottom: 47.7 } },
    plugins: {
      legend: { display: false },
      tooltip: { enabled: false },
      title: {
        display: true,
        text: titleLines,
        color: "#000",
        font: { size: 13.9, weight: "normal", lineHeight: 1.2 },
        padding: { top: 9.6, bottom: 28.7 },
      },
    },
    scales,
  },
  plugins: [panelPlugin],
});
</script>
</body>
</html>
